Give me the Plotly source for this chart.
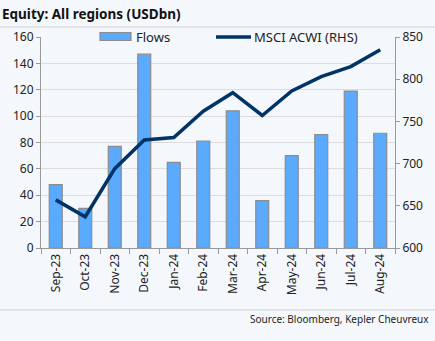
import plotly.graph_objects as go

months = ["Sep-23", "Oct-23", "Nov-23", "Dec-23", "Jan-24", "Feb-24",
          "Mar-24", "Apr-24", "May-24", "Jun-24", "Jul-24", "Aug-24"]
flows = [48, 30, 77, 147, 65, 81, 104, 36, 70, 86, 119, 87]
msci = [657, 637, 694, 728, 731, 762, 784, 757, 786, 803, 815, 835]

bg = "#f4f8fc"
font = "Noto Sans"
bar_color = "#5aabff"
line_color = "#003366"
W, H, L, R, T, B = 435, 341, 41, 40, 37, 93
PW, PH = W - L - R, H - T - B


def px(x):
    return (x - L) / PW


def py(y):
    return 1 - (y - T) / PH


fig = go.Figure()
fig.add_trace(go.Bar(x=months, y=flows, name="Flows",
                     marker=dict(color=bar_color, line=dict(color="#8c8c8c", width=1.2)),
                     width=0.44))
fig.add_trace(go.Scatter(x=months, y=msci, name="MSCI ACWI (RHS)", yaxis="y2",
                         mode="lines", line=dict(color=line_color, width=3.5)))

fig.update_layout(
    width=W, height=H, paper_bgcolor=bg, plot_bgcolor=bg,
    margin=dict(l=L, r=R, t=T, b=B),
    font=dict(family=font, size=12, color="#222"),
    showlegend=False,
    xaxis=dict(tickangle=-90, showline=True, linecolor="#999", ticks="outside",
               tickcolor="#999", ticklen=5, tickson="boundaries", showgrid=False,
               tickfont=dict(size=12), range=[-0.5, 11.5]),
    yaxis=dict(range=[0, 160], dtick=20, showline=True, linecolor="#999", ticks="outside",
               tickcolor="#999", ticklen=4, gridcolor="#dcdcdc", zeroline=False,
               tickfont=dict(size=12)),
    yaxis2=dict(range=[600, 850], dtick=50, overlaying="y", side="right", showline=True,
                linecolor="#999", ticks="outside", tickcolor="#999", ticklen=4,
                showgrid=False, zeroline=False, tickfont=dict(size=12)),
)
# custom legend
fig.add_shape(type="rect", xref="paper", yref="paper", x0=px(100), x1=px(131),
              y0=py(40.5), y1=py(32.5), fillcolor=bar_color,
              line=dict(color="#8c8c8c", width=1.2))
fig.add_annotation(text="Flows", xref="paper", yref="paper", x=px(134), y=py(37),
                   xanchor="left", yanchor="middle", showarrow=False,
                   font=dict(size=13, color="#222"))
fig.add_shape(type="line", xref="paper", yref="paper", x0=px(216), x1=px(251),
              y0=py(37), y1=py(37), line=dict(color=line_color, width=3.5))
fig.add_annotation(text="MSCI ACWI (RHS)", xref="paper", yref="paper", x=px(252), y=py(37),
                   xanchor="left", yanchor="middle", showarrow=False,
                   font=dict(size=13, color="#222"))

fig.add_annotation(text="<b>Equity: All regions (USDbn)</b>", xref="paper", yref="paper",
                   x=px(0), y=py(14), xanchor="left", yanchor="middle",
                   showarrow=False, font=dict(size=13.5, color="#111"))
fig.add_annotation(text="Source: Bloomberg, Kepler Cheuvreux", xref="paper", yref="paper",
                   x=px(431), y=py(319), xanchor="right", yanchor="middle",
                   showarrow=False, font=dict(size=10, color="#222"))
fig.add_shape(type="line", xref="paper", yref="paper", x0=px(0), x1=px(W),
              y0=py(27), y1=py(27), line=dict(color="#cfcfcf", width=1))
fig.add_shape(type="line", xref="paper", yref="paper", x0=px(0), x1=px(W),
              y0=py(310), y1=py(310), line=dict(color="#cfcfcf", width=1))
fig.write_html("out.html")
